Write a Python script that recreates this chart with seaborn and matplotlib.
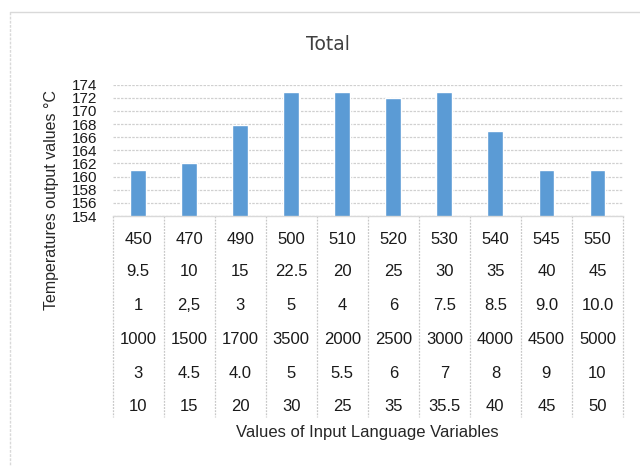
import matplotlib
matplotlib.use("Agg")
import matplotlib.pyplot as plt
import matplotlib.transforms as mtransforms
from matplotlib.lines import Line2D
import numpy as np
import pandas as pd
import seaborn as sns

# -------------------------------------------------------------------
# Data
# -------------------------------------------------------------------
categories = ["450", "470", "490", "500", "510", "520", "530", "540", "545", "550"]
temperatures = [161, 162, 167.8, 172.9, 172.9, 171.9, 172.9, 167, 161, 161]

# rows of the category table under the bars (first row = categories)
row_2 = ["9.5", "10", "15", "22.5", "20", "25", "30", "35", "40", "45"]
row_3 = ["1", "2,5", "3", "5", "4", "6", "7.5", "8.5", "9.0", "10.0"]
row_4 = ["1000", "1500", "1700", "3500", "2000", "2500", "3000", "4000", "4500", "5000"]
row_5 = ["3", "4.5", "4.0", "5", "5.5", "6", "7", "8", "9", "10"]
row_6 = ["10", "15", "20", "30", "25", "35", "35.5", "40", "45", "50"]
table_rows = [categories, row_2, row_3, row_4, row_5, row_6]

y_ticks = list(range(154, 175, 2))

df = pd.DataFrame({"category": categories, "temperature": temperatures})

# -------------------------------------------------------------------
# Plot
# -------------------------------------------------------------------
sns.set_theme(style="white")
plt.rcParams["font.family"] = ["Liberation Sans", "DejaVu Sans"]

W, H = 640, 466
fig = plt.figure(figsize=(6.4, 4.66), dpi=100)
ax = fig.add_axes([112.5 / W, 1 - 216 / H, 510.5 / W, 131.3 / H])

sns.barplot(data=df, x="category", y="temperature", color="#5B9BD5",
            saturation=1, width=0.31, ax=ax)

ax.set_ylim(154, 174)
ax.set_xlim(-0.5, len(categories) - 0.5)
ax.set_yticks(y_ticks)
ax.set_xlabel("")
ax.set_ylabel("")
ax.set_xticklabels([])
ax.tick_params(axis="x", length=0)
ax.tick_params(axis="y", length=0, pad=11, labelsize=11, labelcolor="#1a1a1a")

ax.yaxis.grid(True, color="#D0D0D0", linestyle=(0, (2, 1)), linewidth=0.9)
ax.set_axisbelow(True)
for s in ["left", "top", "right"]:
    ax.spines[s].set_visible(False)
ax.spines["bottom"].set_color("#D9D9D9")
ax.spines["bottom"].set_linewidth(1)

# table under the axis
trans = mtransforms.blended_transform_factory(ax.transData, fig.transFigure)
row_y = [239, 272, 305, 339.5, 373, 406.5]
for vals, yp in zip(table_rows, row_y):
    for i, v in enumerate(vals):
        ax.text(i, 1 - yp / H, v, transform=trans, ha="center", va="center",
                fontsize=12, color="#1a1a1a", clip_on=False)

for b in np.arange(-0.5, len(categories), 1):
    ax.add_line(Line2D([b, b], [1 - 216 / H, 1 - 417 / H], transform=trans,
                       color="#C8C8C8", linewidth=0.9, linestyle=(0, (1.5, 1)),
                       clip_on=False))

# titles
fig.text(328 / W, 1 - 44 / H, "Total", ha="center", va="center",
         fontsize=13.5, color="#404040", family="DejaVu Sans")
fig.text(367 / W, 1 - 432 / H, "Values of Input Language Variables",
         ha="center", va="center", fontsize=12, color="#262626")
fig.text(51.5 / W, 1 - 200 / H, "Temperatures output values °C", rotation=90,
         ha="center", va="center", fontsize=11.5, color="#262626")

# chart frame
fig.add_artist(Line2D([10 / W, 1.0], [1 - 12 / H, 1 - 12 / H], transform=fig.transFigure,
                      color="#D9D9D9", linewidth=1))
fig.add_artist(Line2D([10 / W, 10 / W], [1 - 12 / H, 0.0], transform=fig.transFigure,
                      color="#D9D9D9", linewidth=1, linestyle=(0, (2, 1))))

fig.savefig("out.png", dpi=100)
